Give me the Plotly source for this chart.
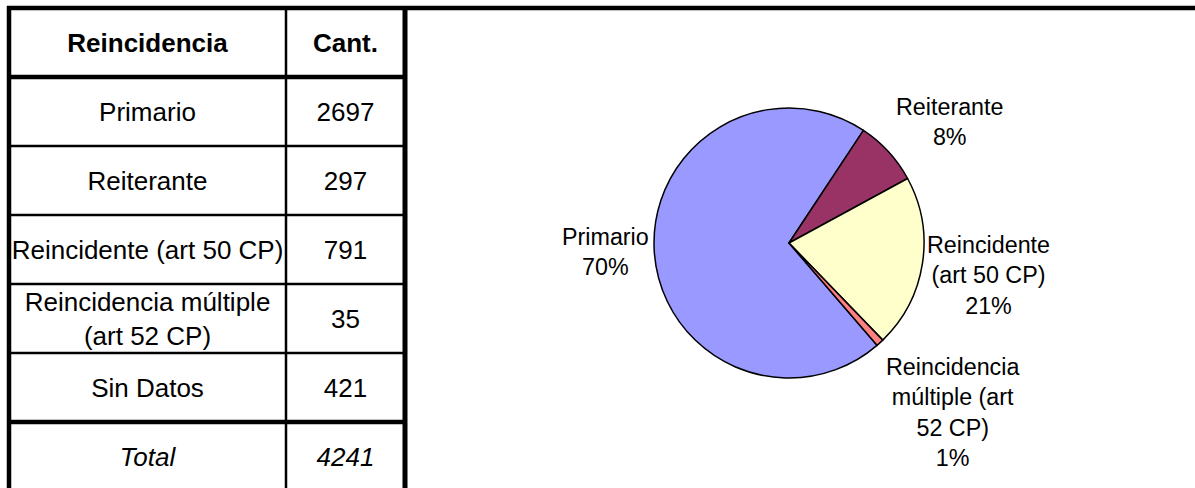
import math
import plotly.graph_objects as go

# ---------------- data ----------------
header = ["Reincidencia", "Cant."]
table_labels = ["Primario", "Reiterante", "Reincidente (art 50 CP)",
                "Reincidencia múltiple<br>(art 52 CP)", "Sin Datos"]
counts = [2697, 297, 791, 35, 421]
total_label = "Total"

pie_labels = ["Primario", "Reiterante", "Reincidente<br>(art 50 CP)",
              "Reincidencia<br>múltiple (art<br>52 CP)"]
pie_values = [2697, 297, 791, 35]
pie_pct_labels = ["70%", "8%", "21%", "1%"]
pie_colors = ["#9999FF", "#993366", "#FFFFCC", "#FF8080"]

# ---------------- style / layout constants ----------------
W, H = 1195, 488
FONT = "Arial, Liberation Sans, sans-serif"
TABLE_LEFT, COL_SPLIT, TABLE_RIGHT = 9, 286, 405
TOP = 8
ROW_H = 69
THIN, THICK = 2.5, 4.5
TABLE_FONT = 26
TABLE_TEXT_DY = 3
LABEL_FONT = 23.3
LABEL_DY = 2

PIE_CX, PIE_CY, PIE_R = 789, 243, 135
PIE_ROTATION = 139.3
LABEL_DIST = [184, 203, 202, 234]
LABEL_ANGLE_ADJ = [1.4, 5.1, 0.0, -2.1]

fig = go.Figure()

# ---------------- table ----------------
rows = [(f"<b>{header[0]}</b>", f"<b>{header[1]}</b>")]
rows += [(lab, str(v)) for lab, v in zip(table_labels, counts)]
rows += [(f"<i>{total_label}</i>", f"<i>{sum(counts)}</i>")]
n_rows = len(rows)
bottom = TOP + ROW_H * n_rows

tx, ty, tt = [], [], []
for i, (a, b) in enumerate(rows):
    yc = TOP + ROW_H * (i + 0.5) + TABLE_TEXT_DY
    tx += [(TABLE_LEFT + COL_SPLIT) / 2, (COL_SPLIT + TABLE_RIGHT) / 2]
    ty += [yc, yc]
    tt += [a, b]

fig.add_trace(go.Scatter(
    x=tx, y=ty, text=tt, mode="text", textposition="middle center",
    textfont=dict(family=FONT, size=TABLE_FONT, color="black"),
    hoverinfo="skip", showlegend=False, xaxis="x", yaxis="y"))

shapes = []
for i in range(1, n_rows):
    y = TOP + ROW_H * i
    w = THICK if i in (1, n_rows - 1) else THIN
    shapes.append(dict(type="line", xref="x", yref="y", x0=TABLE_LEFT, x1=TABLE_RIGHT,
                       y0=y, y1=y, line=dict(color="black", width=w)))
shapes.append(dict(type="line", xref="x", yref="y", x0=TABLE_LEFT - 2, x1=W,
                   y0=TOP, y1=TOP, line=dict(color="black", width=THICK)))
shapes.append(dict(type="line", xref="x", yref="y", x0=TABLE_LEFT, x1=TABLE_LEFT,
                   y0=TOP - 2, y1=bottom, line=dict(color="black", width=THICK)))
shapes.append(dict(type="line", xref="x", yref="y", x0=COL_SPLIT, x1=COL_SPLIT,
                   y0=TOP, y1=bottom, line=dict(color="black", width=THIN)))
shapes.append(dict(type="line", xref="x", yref="y", x0=TABLE_RIGHT, x1=TABLE_RIGHT,
                   y0=TOP - 2, y1=bottom, line=dict(color="black", width=THICK + 0.5)))

# ---------------- pie ----------------
fig.add_trace(go.Pie(
    labels=[l.replace("<br>", " ") for l in pie_labels], values=pie_values,
    sort=False, direction="clockwise", rotation=PIE_ROTATION,
    marker=dict(colors=pie_colors, line=dict(color="black", width=1.5)),
    textinfo="none", hoverinfo="label+percent", showlegend=False,
    domain=dict(x=[(PIE_CX - PIE_R) / W, (PIE_CX + PIE_R) / W],
                y=[1 - (PIE_CY + PIE_R) / H, 1 - (PIE_CY - PIE_R) / H])))

annotations = []
tot = sum(pie_values)
cum = 0
for lab, v, pct, d, adj in zip(pie_labels, pie_values, pie_pct_labels,
                               LABEL_DIST, LABEL_ANGLE_ADJ):
    mid = math.radians(PIE_ROTATION + 360 * (cum + v / 2) / tot + adj)
    cum += v
    annotations.append(dict(
        x=PIE_CX + d * math.sin(mid), y=PIE_CY - d * math.cos(mid) + LABEL_DY,
        xref="x", yref="y", text=f"{lab}<br>{pct}", showarrow=False,
        xanchor="center", yanchor="middle", align="center",
        font=dict(family=FONT, size=LABEL_FONT, color="black")))

fig.update_layout(
    width=W, height=H, margin=dict(l=0, r=0, t=0, b=0),
    paper_bgcolor="white", plot_bgcolor="white",
    xaxis=dict(range=[0, W], visible=False, fixedrange=True, domain=[0, 1]),
    yaxis=dict(range=[H, 0], visible=False, fixedrange=True, domain=[0, 1]),
    shapes=shapes, annotations=annotations)

fig.write_html("out.html", config={"displayModeBar": False},
               post_script="document.body.style.margin='0';document.body.style.overflow='hidden';")
